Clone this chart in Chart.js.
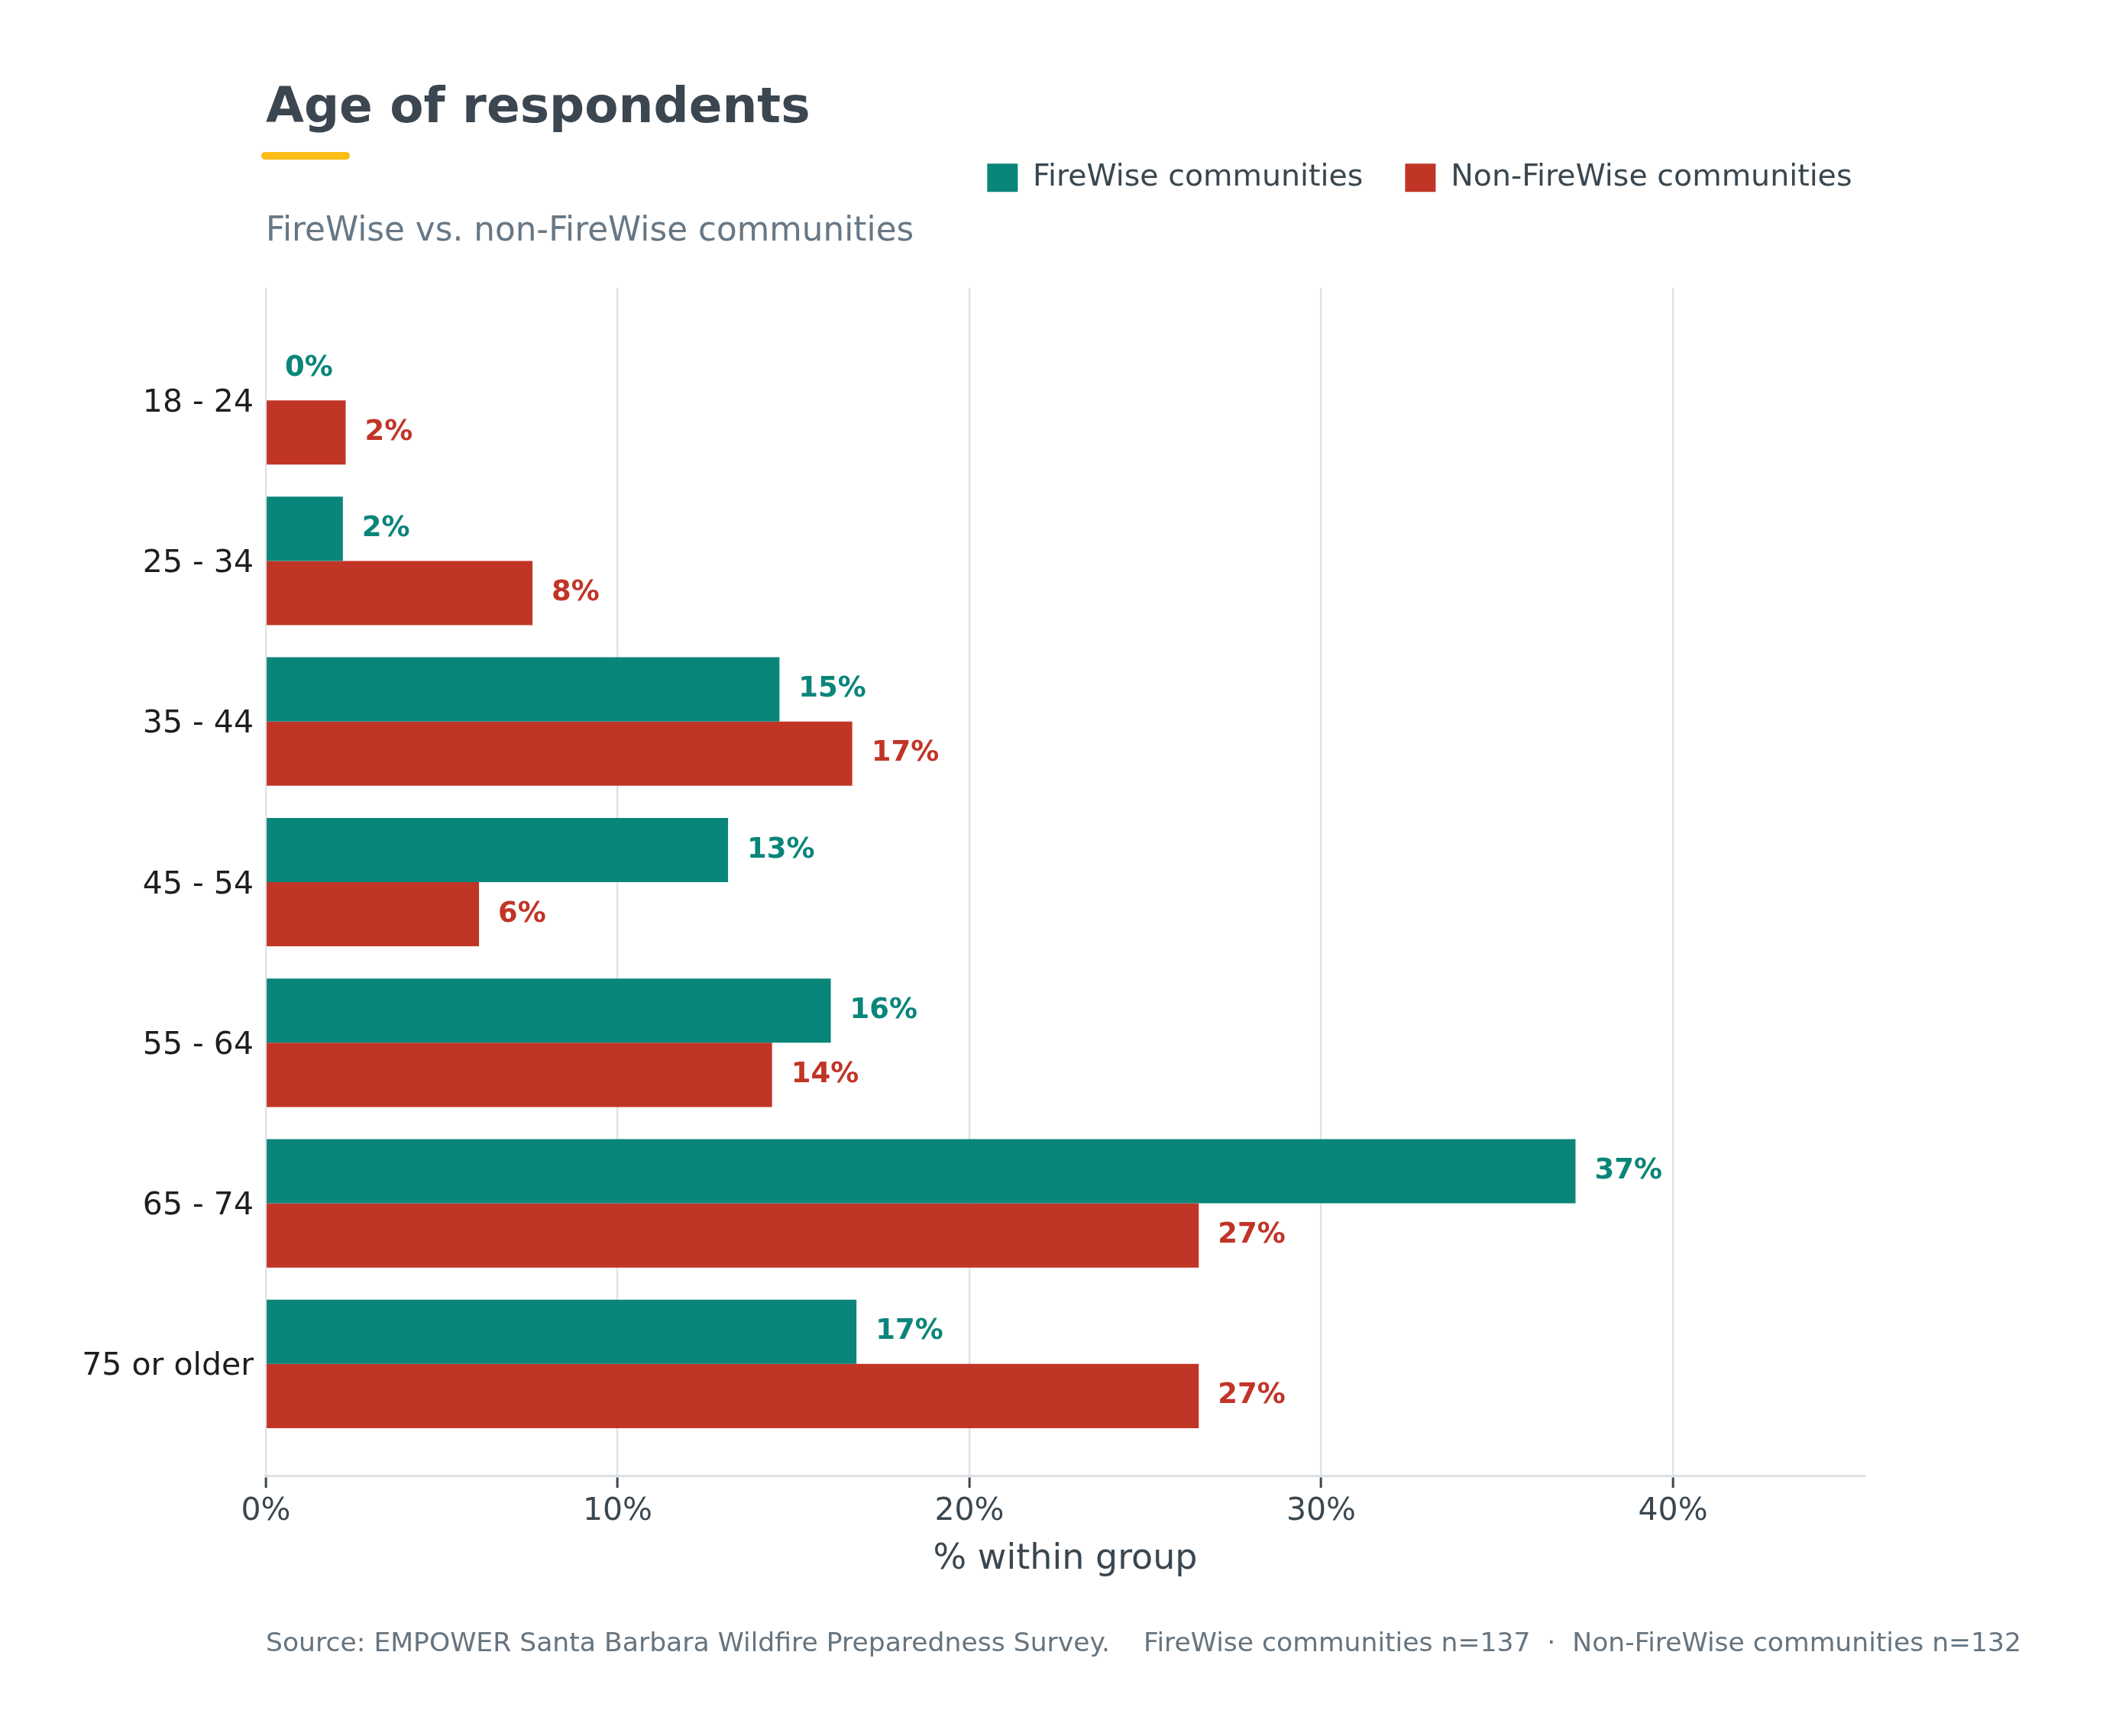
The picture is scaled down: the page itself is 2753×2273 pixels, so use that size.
<!DOCTYPE html>
<html>
<head>
<meta charset="utf-8">
<script src="https://cdn.jsdelivr.net/npm/chart.js@4.4.1/dist/chart.umd.min.js"></script>
<style>
  html, body { margin: 0; padding: 0; background: #ffffff; }
  body { width: 2753px; height: 2273px; position: relative; overflow: hidden; font-family: "DejaVu Sans", sans-serif; }
  #chart { position: absolute; left: 0; top: 0; }
  .txt { position: absolute; white-space: pre; line-height: 1; margin: 0; }
  #title { left: 348px; top: 106px; font-size: 64.5px; font-weight: bold; color: #3b4650; }
  #accent { position: absolute; left: 342px; top: 199px; width: 116px; height: 10px; border-radius: 5px; background: #fbbc15; }
  #subtitle { left: 348px; top: 278px; font-size: 43.7px; color: #677785; }
  #footer { left: 348px; top: 2133px; font-size: 34.6px; color: #66747f; }
</style>
</head>
<body>
<canvas id="chart" width="2753" height="2273"></canvas>
<div class="txt" id="title">Age of respondents</div>
<div id="accent"></div>
<div class="txt" id="subtitle">FireWise vs. non-FireWise communities</div>
<div class="txt" id="footer">Source: EMPOWER Santa Barbara Wildfire Preparedness Survey.    FireWise communities n=137  ·  Non-FireWise communities n=132</div>
<script>
// ---- data ----
const categories = ['18 - 24', '25 - 34', '35 - 44', '45 - 54', '55 - 64', '65 - 74', '75 or older'];
const seriesNames = ['FireWise communities', 'Non-FireWise communities'];
const firewiseValues = [0, 2.19, 14.60, 13.14, 16.06, 37.23, 16.79];
const nonFirewiseValues = [2.27, 7.58, 16.67, 6.06, 14.39, 26.52, 26.52];
const xTickValues = [0, 10, 20, 30, 40];
const xMax = 45.45;

const teal = '#0a857a';
const red = '#c13527';
const FONT = '"DejaVu Sans"';

const toPoints = (vals) => vals.map((v, i) => ({ x: v, y: i }));

const valueLabels = {
  id: 'valueLabels',
  afterDatasetsDraw(chart) {
    const ctx = chart.ctx;
    ctx.save();
    ctx.font = 'bold 37px ' + FONT;
    ctx.textBaseline = 'middle';
    ctx.textAlign = 'left';
    chart.data.datasets.forEach((ds, di) => {
      const meta = chart.getDatasetMeta(di);
      ctx.fillStyle = ds.backgroundColor;
      meta.data.forEach((bar, i) => {
        const v = ds.data[i].x;
        ctx.fillText(Math.round(v) + '%', bar.x + 25, bar.y);
      });
    });
    ctx.restore();
  }
};

const legendSpacer = {
  id: 'legendSpacer',
  afterInit(chart) {
    const lg = chart.legend;
    if (!lg) return;
    const origFit = lg.fit;
    lg.fit = function () {
      origFit.call(this);
      this.height = 219;
    };
  },
  afterLayout(chart) {
    const lg = chart.legend;
    if (!lg) return;
    lg.right += 38.5;
    lg.width += 38.5;
  }
};

new Chart(document.getElementById('chart'), {
  type: 'bar',
  data: {
    datasets: [
      { label: seriesNames[0], data: toPoints(firewiseValues), backgroundColor: teal, borderWidth: 0 },
      { label: seriesNames[1], data: toPoints(nonFirewiseValues), backgroundColor: red, borderWidth: 0 }
    ]
  },
  options: {
    indexAxis: 'y',
    responsive: false,
    animation: false,
    devicePixelRatio: 1,
    categoryPercentage: 0.8,
    barPercentage: 1.0,
    layout: { padding: { top: 158, left: 0, right: 312, bottom: 0 } },
    plugins: {
      tooltip: { enabled: false },
      title: { display: false },
      legend: {
        display: true,
        position: 'top',
        align: 'end',
        labels: {
          boxWidth: 40,
          boxHeight: 37,
          padding: 55,
          color: '#3a4750',
          font: { family: FONT, size: 39.5 }
        }
      }
    },
    scales: {
      x: {
        type: 'linear',
        position: 'bottom',
        min: 0,
        max: xMax,
        offset: false,
        afterFit(scale) { scale.height = 340; },
        afterBuildTicks(scale) { scale.ticks = xTickValues.map(v => ({ value: v })); },
        grid: {
          display: true,
          offset: false,
          color: '#dde2e7',
          lineWidth: 2.3,
          drawTicks: true,
          tickLength: 15,
          tickColor: '#3a4750',
          tickWidth: 3
        },
        border: { display: true, color: '#dde1e6', width: 3.3 },
        ticks: {
          padding: 7,
          color: '#3a4750',
          font: { family: FONT, size: 41 },
          callback: (v) => v + '%'
        },
        title: {
          display: true,
          text: '% within group',
          color: '#3a4750',
          font: { family: FONT, size: 46 },
          padding: { top: 0, bottom: 203 }
        }
      },
      y: {
        type: 'linear',
        reverse: true,
        min: -0.7,
        max: 6.7,
        offset: false,
        afterFit(scale) { scale.width = 348; },
        afterBuildTicks(scale) { scale.ticks = categories.map((c, i) => ({ value: i })); },
        grid: { display: false, drawTicks: false, offset: false },
        border: { display: false },
        ticks: {
          autoSkip: false,
          padding: 16,
          labelOffset: 4,
          color: '#1e1e1e',
          font: { family: FONT, size: 41 },
          callback: (v) => categories[v]
        }
      }
    }
  },
  plugins: [legendSpacer, valueLabels]
});
</script>
</body>
</html>
